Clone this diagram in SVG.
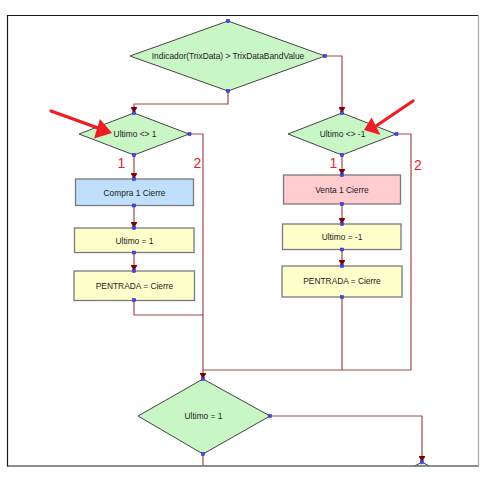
<svg xmlns="http://www.w3.org/2000/svg" width="486" height="477" viewBox="0 0 486 477">
<style>
.dia{fill:#c8f7c5;stroke:#444;stroke-width:1}
.box{stroke:#7a7a7a;stroke-width:1.3}
.blue{fill:#bfdffc}
.pink{fill:#ffccd0}
.yel{fill:#ffffcc}
.lbl{font-family:"Liberation Sans",Arial,sans-serif;font-size:8.4px;fill:#222;text-anchor:middle}
.num{font-family:"Liberation Sans",Arial,sans-serif;font-size:14px;fill:#ec1c28;text-anchor:middle}
.con{fill:none;stroke:#a34848;stroke-width:1.2}
.pt{fill:#4444ff;stroke:#2222aa;stroke-width:0.5}
.red{fill:#ee1c24}
</style>
<defs>
<clipPath id="frame"><rect x="8" y="15.5" width="470" height="450"/></clipPath>
<g id="pa"><path d="M-3,-6 L3,-6 L3,-5 L0,0 L-3,-5 Z" fill="#800000"/></g>
</defs>
<rect width="486" height="477" fill="#fff"/>
<g clip-path="url(#frame)">
<g id="connectors">
<polyline class="con" points="228,91 228,104 134,104 134,113"/>
<polyline class="con" points="325,56 342,56 342,113"/>
<polyline class="con" points="134,155 134,179"/>
<polyline class="con" points="134,206 134,228"/>
<polyline class="con" points="134,253 134,271"/>
<polyline class="con" points="134,300 134,315 203,315"/>
<polyline class="con" points="189,134 203,134 203,379"/>
<polyline class="con" points="342,155 342,175"/>
<polyline class="con" points="342,204 342,224"/>
<polyline class="con" points="342,250 342,266"/>
<polyline class="con" points="342,297 342,370"/>
<polyline class="con" points="396,134 411,134 411,370 203,370" stroke="#c98585"/>
<polyline class="con" points="270,416 422,416 422,462" stroke="#c07a7a"/>
<polyline class="con" points="203,454 203,470"/>
<use href="#pa" x="134" y="113"/>
<use href="#pa" x="342" y="113"/>
<use href="#pa" x="134" y="179"/>
<use href="#pa" x="134" y="228"/>
<use href="#pa" x="134" y="271"/>
<use href="#pa" x="342" y="175"/>
<use href="#pa" x="342" y="224"/>
<use href="#pa" x="342" y="266"/>
<use href="#pa" x="203" y="379"/>
<use href="#pa" x="422" y="462"/>
</g>
<g id="n-top">
<polygon class="dia" points="228,21 325,56 228,91 130,56"/>
<text class="lbl" x="228" y="59">Indicador(TrixData) &gt; TrixDataBandValue</text>
</g>
<g id="n-ult1">
<polygon class="dia" points="134,113 189,134 134,155 79,134"/>
<text class="lbl" x="135" y="137">Ultimo &lt;&gt; 1</text>
</g>
<g id="n-ultm1">
<polygon class="dia" points="342,113 396,134 342,155 288,134"/>
<text class="lbl" x="342.5" y="137">Ultimo &lt;&gt; -1</text>
</g>
<g id="n-compra">
<rect class="box blue" x="75.5" y="179" width="118" height="26.5"/>
<text class="lbl" x="134.5" y="195.5">Compra 1 Cierre</text>
</g>
<g id="n-u1">
<rect class="box yel" x="74.5" y="228" width="119.5" height="24.5"/>
<text class="lbl" x="134.5" y="243.5">Ultimo = 1</text>
</g>
<g id="n-pe1">
<rect class="box yel" x="74" y="271" width="120.5" height="29.5"/>
<text class="lbl" x="134.5" y="288.5">PENTRADA = Cierre</text>
</g>
<g id="n-venta">
<rect class="box pink" x="283.5" y="175" width="117" height="29"/>
<text class="lbl" x="342" y="192.5">Venta 1 Cierre</text>
</g>
<g id="n-um1">
<rect class="box yel" x="282.5" y="224" width="118.5" height="25.5"/>
<text class="lbl" x="342" y="239.5">Ultimo = -1</text>
</g>
<g id="n-pe2">
<rect class="box yel" x="282" y="266" width="120" height="31"/>
<text class="lbl" x="342" y="284">PENTRADA = Cierre</text>
</g>
<g id="n-bot">
<polygon class="dia" points="203,379 270,416 203,454 138,416"/>
<text class="lbl" x="203.5" y="419">Ultimo = 1</text>
</g>
<g id="n-next">
<polygon class="dia" points="422,462 455,480 422,498 389,480"/>
</g>
<g id="points">
<rect class="pt" x="226.5" y="19.5" width="3" height="3"/>
<rect class="pt" x="226.5" y="89.5" width="3" height="3"/>
<rect class="pt" x="323.5" y="54.5" width="3" height="3"/>
<rect class="pt" x="132.5" y="111.5" width="3" height="3"/>
<rect class="pt" x="132.5" y="153.5" width="3" height="3"/>
<rect class="pt" x="188" y="132.5" width="3" height="3"/>
<rect class="pt" x="340.5" y="111.5" width="3" height="3"/>
<rect class="pt" x="340.5" y="153.5" width="3" height="3"/>
<rect class="pt" x="395" y="132.5" width="3" height="3"/>
<rect class="pt" x="132.5" y="177.5" width="3" height="3"/>
<rect class="pt" x="132.5" y="204" width="3" height="3"/>
<rect class="pt" x="132.5" y="226.5" width="3" height="3"/>
<rect class="pt" x="132.5" y="251" width="3" height="3"/>
<rect class="pt" x="132.5" y="269.5" width="3" height="3"/>
<rect class="pt" x="132.5" y="298.5" width="3" height="3"/>
<rect class="pt" x="340.5" y="173.5" width="3" height="3"/>
<rect class="pt" x="340.5" y="202.5" width="3" height="3"/>
<rect class="pt" x="340.5" y="222.5" width="3" height="3"/>
<rect class="pt" x="340.5" y="248" width="3" height="3"/>
<rect class="pt" x="340.5" y="264.5" width="3" height="3"/>
<rect class="pt" x="340.5" y="295.5" width="3" height="3"/>
<rect class="pt" x="201.5" y="377.5" width="3" height="3"/>
<rect class="pt" x="201.5" y="452.5" width="3" height="3"/>
<rect class="pt" x="268.5" y="414.5" width="3" height="3"/>
<rect class="pt" x="420.5" y="460.5" width="3" height="3"/>
</g>
</g>
<g id="labels">
<text class="num" x="121.5" y="168">1</text>
<text class="num" x="197.5" y="168">2</text>
<text class="num" x="333.5" y="167.5">1</text>
<text class="num" x="418" y="169.5">2</text>
</g>
<g id="arrows">
<line x1="51" y1="111" x2="98" y2="128" stroke="#ee1c24" stroke-width="3.2" stroke-linecap="round"/>
<polygon class="red" points="112,133 100,119 94,138.5"/>
<line x1="413" y1="101" x2="376" y2="126" stroke="#ee1c24" stroke-width="3.2" stroke-linecap="round"/>
<polygon class="red" points="364,130 371.5,117.5 380.5,135"/>
</g>
<g id="frame-border">
<line x1="7.5" y1="15" x2="7.5" y2="466.5" stroke="#1a1a1a" stroke-width="1.2"/>
<line x1="7" y1="15.5" x2="478.5" y2="15.5" stroke="#1a1a1a" stroke-width="1.2"/>
<line x1="7" y1="466" x2="479" y2="466" stroke="#1a1a1a" stroke-width="1.2"/>
<line x1="478.5" y1="15" x2="478.5" y2="466" stroke="#a8a8a8" stroke-width="1.2"/>
</g>
</svg>
